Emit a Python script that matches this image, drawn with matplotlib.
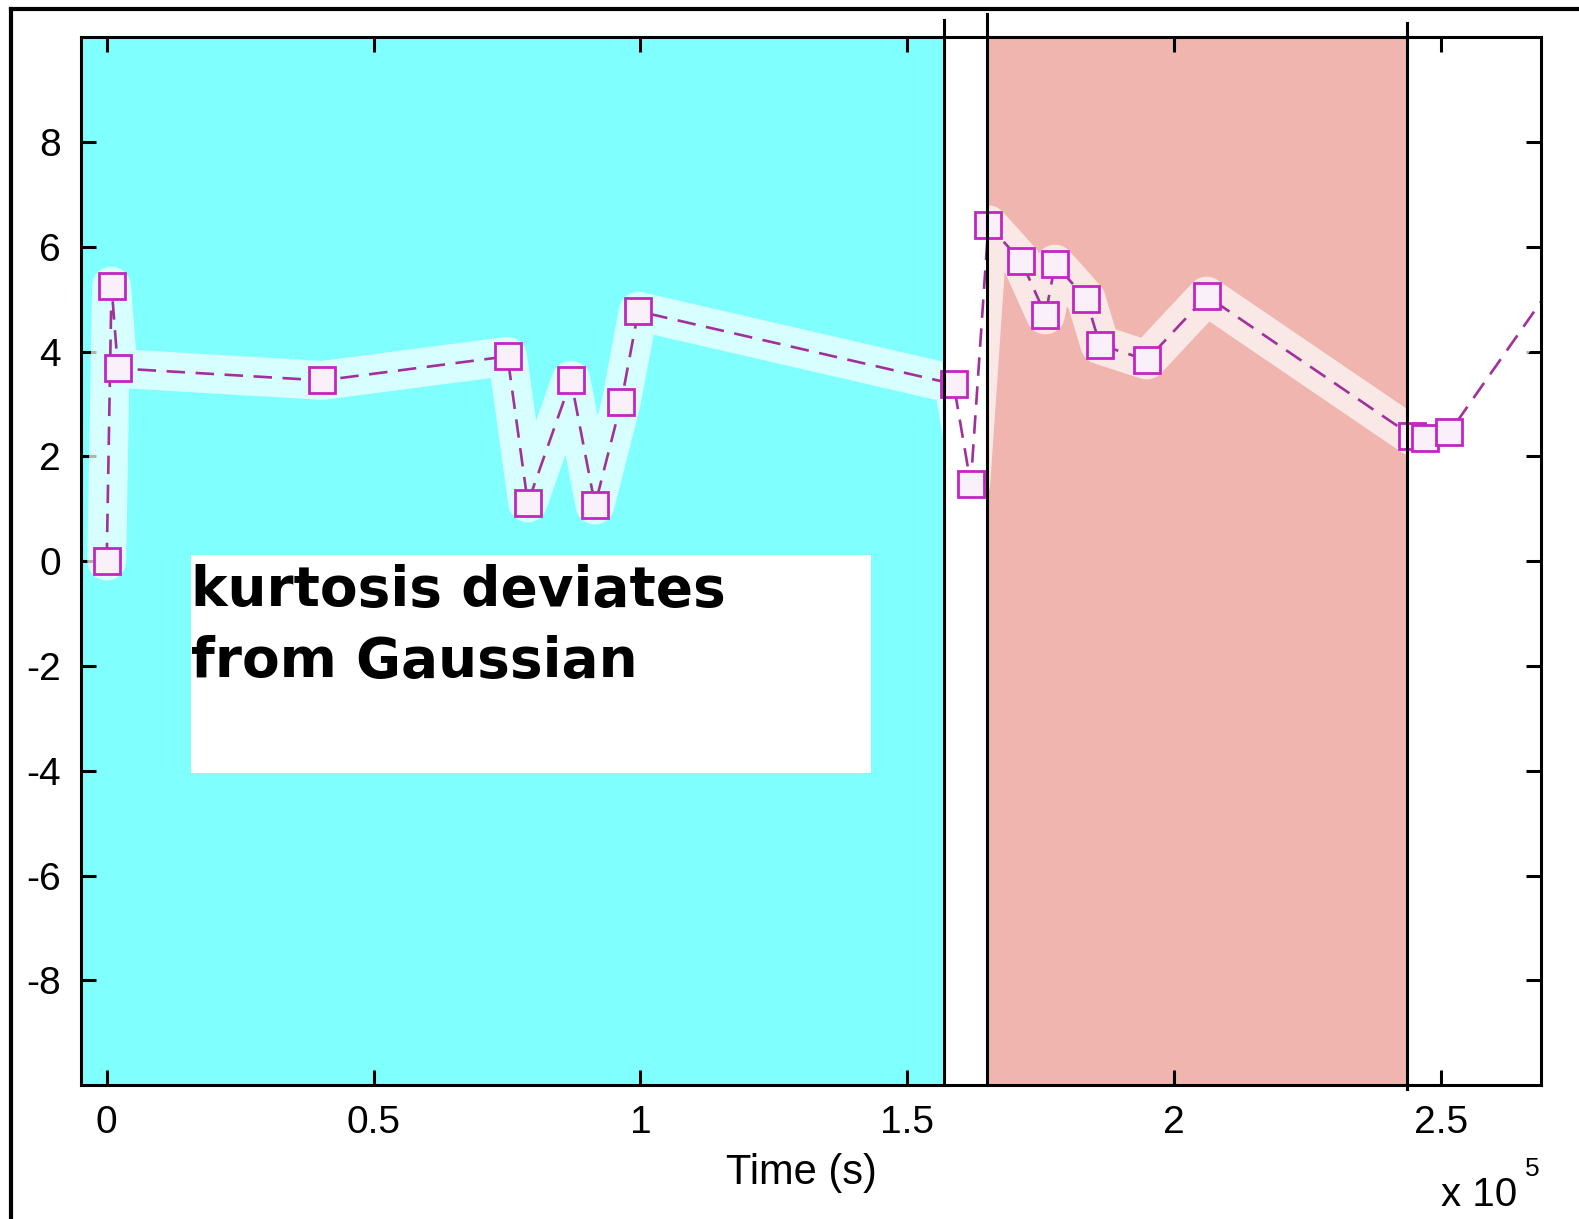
import matplotlib
matplotlib.use("Agg")
import matplotlib.pyplot as plt
from matplotlib.patches import Rectangle
from matplotlib.lines import Line2D
from matplotlib.ticker import FuncFormatter

# ---- data (time in seconds, kurtosis values) ----
time_s = [0.0e5, 0.009e5, 0.021e5, 0.404e5, 0.751e5, 0.789e5, 0.870e5, 0.915e5,
          0.964e5, 0.996e5, 1.587e5, 1.619e5, 1.652e5, 1.714e5, 1.759e5, 1.777e5,
          1.835e5, 1.861e5, 1.949e5, 2.061e5, 2.446e5, 2.471e5, 2.516e5, 2.75e5]
kurtosis = [0.0, 5.25, 3.68, 3.45, 3.91, 1.11, 3.45, 1.07,
            3.03, 4.77, 3.38, 1.47, 6.42, 5.72, 4.70, 5.67,
            5.01, 4.13, 3.84, 5.06, 2.39, 2.36, 2.46, 5.86]
xticks = [0, 0.5e5, 1.0e5, 1.5e5, 2.0e5, 2.5e5]
yticks = [-8, -6, -4, -2, 0, 2, 4, 6, 8]
region_cyan = (-0.05e5, 1.568e5)
region_salmon = (1.649e5, 2.436e5)
boundaries = [1.568e5, 1.649e5, 2.436e5]
annotation = "kurtosis deviates\nfrom Gaussian"

plt.rcParams['font.family'] = ['Liberation Sans', 'DejaVu Sans']
plt.rcParams['axes.unicode_minus'] = False

W, H = 1579, 1219
fig = plt.figure(figsize=(W / 100, H / 100), dpi=100)
fig.patch.set_facecolor('white')

left, right = 80 / 1568, 1530 / 1568
bottom, top = 1 - 1078 / 1211, 1 - 37 / 1211
ax = fig.add_axes([left, bottom, right - left, top - bottom])

xlim = (-0.049e5, 2.687e5)
ax.set_xlim(*xlim)
ax.set_ylim(-10, 10)

ax.axvspan(region_cyan[0], region_cyan[1], color='#80ffff', zorder=0, lw=0)
ax.axvspan(region_salmon[0], region_salmon[1], color='#efb5ae', zorder=0, lw=0)

# boundary lines (extend a bit above the axes)
ymaxs = [1.016, 1.022, 1.014]
ymins = [0.0, 0.0, -0.004]
for xb, ymx, ymn in zip(boundaries, ymaxs, ymins):
    ax.axvline(xb, ymin=ymn, ymax=ymx, color='black', lw=2.2, clip_on=False, zorder=5)

# white halo under the data
ax.plot(time_s, kurtosis, color='white', lw=28, alpha=0.7, zorder=2,
        solid_capstyle='round', solid_joinstyle='round')

ax.plot(time_s, kurtosis, linestyle=(0, (7, 4)), color='#a0309a', lw=1.9,
        marker='s', markersize=18.5, markerfacecolor='#faf0fa',
        markeredgecolor='#c424c4', markeredgewidth=2.0, zorder=3)

# annotation box
box = Rectangle((0.158e5, -4.05), (1.432 - 0.158) * 1e5, 4.16,
                facecolor='white', edgecolor='none', zorder=4)
ax.add_patch(box)
ax.text(0.158e5, -0.05, annotation, fontsize=39.5, fontweight='bold',
        family='DejaVu Sans', ha='left', va='top', color='black', zorder=6,
        linespacing=1.42)

ax.set_xticks(xticks)
ax.set_yticks(yticks)
ax.xaxis.set_major_formatter(FuncFormatter(lambda v, p: '%g' % (v / 1e5)))
ax.tick_params(direction='in', length=11, width=2.2, labelsize=28,
               top=True, right=True, pad=14, colors='black')
for s in ax.spines.values():
    s.set_linewidth(2.2)
    s.set_zorder(6)

ax.set_xlabel('Time (s)', fontsize=30)
ax.xaxis.set_label_coords((796 - 80) / 1450, -0.065)

fig.text(1431 / 1568, 1 - 1187 / 1211, 'x 10', fontsize=29, ha='left', va='center')
fig.text(1514 / 1568, 1 - 1161 / 1211, '5', fontsize=19, ha='left', va='center')

# outer border (left and top)
fig.add_artist(Line2D([11 / W, 11 / W], [0, 1 - 9 / H], color='black', lw=3))
fig.add_artist(Line2D([11 / W, 1], [1 - 9 / H, 1 - 9 / H], color='black', lw=3))

fig.savefig('out.png', dpi=100, facecolor='white')
